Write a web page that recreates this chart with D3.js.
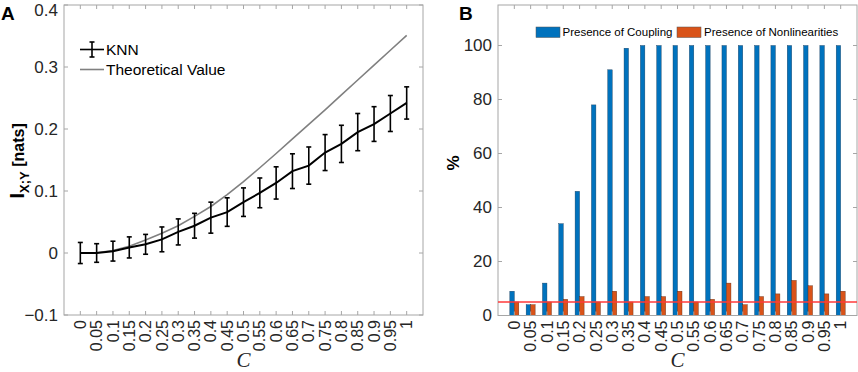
<!DOCTYPE html>
<html>
<head>
<meta charset="utf-8">
<script src="https://cdn.jsdelivr.net/npm/d3@7"></script>
<style>
  body { margin: 0; background: #fff; }
  text { font-family: 'Liberation Sans', Arial, sans-serif; fill: #262626; }
</style>
</head>
<body>
<svg id="chart" width="858" height="372"></svg>
<script>
// coupling strength C
var cValues = [0, 0.05, 0.1, 0.15, 0.2, 0.25, 0.3, 0.35, 0.4, 0.45, 0.5,
               0.55, 0.6, 0.65, 0.7, 0.75, 0.8, 0.85, 0.9, 0.95, 1]
var cLabels = ['0', '0.05', '0.1', '0.15', '0.2', '0.25', '0.3', '0.35', '0.4', '0.45', '0.5',
               '0.55', '0.6', '0.65', '0.7', '0.75', '0.8', '0.85', '0.9', '0.95', '1']

// panel A: KNN estimate (mean, half error bar) and theoretical MI
var knnMean = [0, 0, 0.003, 0.009, 0.014, 0.022, 0.034, 0.044, 0.057, 0.066, 0.082,
               0.097, 0.113, 0.132, 0.141, 0.162, 0.176, 0.195, 0.208, 0.225, 0.242]
var knnErr = [0.017, 0.015, 0.016, 0.017, 0.016, 0.02, 0.021, 0.02, 0.025, 0.023, 0.023,
              0.024, 0.026, 0.028, 0.03, 0.029, 0.03, 0.03, 0.028, 0.029, 0.026]
var theoretical = [0, 0.0005, 0.004, 0.011, 0.021, 0.032, 0.044, 0.059, 0.075, 0.094, 0.115,
                   0.1375, 0.1605, 0.184, 0.2075, 0.231, 0.255, 0.279, 0.303, 0.327, 0.351]
var yTicksA = [-0.1, 0, 0.1, 0.2, 0.3, 0.4]

// panel B: percentage of detections
var coupling = [9, 4, 12, 34, 46, 78, 91, 99, 100, 100, 100,
                100, 100, 100, 100, 100, 100, 100, 100, 100, 100]
var nonlin = [5, 4, 5, 6, 7, 5, 9, 5, 7, 7, 9,
              5, 6, 12, 4, 7, 8, 13, 11, 8, 9]
var alphaLevel = 5
var yTicksB = [0, 20, 40, 60, 80, 100]

var svg = d3.select('#chart')
var axisGray = '#a6a6a6'
var blue = '#0072BD', orange = '#D95319'

function drawFrame(x, y, xTicks, yTicks, yFmt) {
  var g = svg.append('g')
  var x0 = x.range()[0], x1 = x.range()[1]
  var y0 = y.range()[0], y1 = y.range()[1]
  g.append('rect')
    .attr('x', x0).attr('y', y1).attr('width', x1 - x0).attr('height', y0 - y1)
    .attr('fill', 'none').attr('stroke', axisGray).attr('stroke-width', 1)
  var tl = 4
  xTicks.forEach(function(t) {
    g.append('line').attr('x1', x(t)).attr('x2', x(t)).attr('y1', y0).attr('y2', y0 - tl)
      .attr('stroke', axisGray)
    g.append('line').attr('x1', x(t)).attr('x2', x(t)).attr('y1', y1).attr('y2', y1 + tl)
      .attr('stroke', axisGray)
  })
  yTicks.forEach(function(t) {
    g.append('line').attr('x1', x0).attr('x2', x0 + tl).attr('y1', y(t)).attr('y2', y(t))
      .attr('stroke', axisGray)
    g.append('line').attr('x1', x1).attr('x2', x1 - tl).attr('y1', y(t)).attr('y2', y(t))
      .attr('stroke', axisGray)
    g.append('text').text(yFmt(t))
      .attr('x', x0 - 6).attr('y', Math.max(y(t), 10)).attr('dy', '0.35em')
      .attr('text-anchor', 'end').style('font-size', '17px')
  })
  xTicks.forEach(function(t, i) {
    g.append('text').text(cLabels[i])
      .attr('transform', 'translate(' + x(t) + ',' + (y0 + 5) + ') rotate(-90)')
      .attr('dy', '0.35em').attr('text-anchor', 'end').style('font-size', '16px')
  })
  g.append('text').text('C')
    .attr('x', (x0 + x1) / 2).attr('y', 367).attr('text-anchor', 'middle')
    .style('font-family', "'Liberation Serif', 'DejaVu Serif', serif")
    .style('font-style', 'italic').style('font-size', '21px')
  return g
}

// ---------- panel A ----------
var xA = d3.scaleLinear().domain([-0.05, 1.05]).range([64, 423])
var yA = d3.scaleLinear().domain([-0.1, 0.4]).range([315, 5])

drawFrame(xA, yA, cValues, yTicksA, function(d) { return d === 0 ? '0' : d3.format('.1f')(d) })

svg.append('path')
  .datum(cValues)
  .attr('d', d3.line().x(function(d) { return xA(d) }).y(function(d, i) { return yA(theoretical[i]) }))
  .attr('fill', 'none').attr('stroke', '#808080').attr('stroke-width', 1.6)

var cap = 2.5
var errG = svg.append('g').attr('stroke', '#000').attr('stroke-width', 1.6)
cValues.forEach(function(c, i) {
  var xx = xA(c), lo = yA(knnMean[i] - knnErr[i]), hi = yA(knnMean[i] + knnErr[i])
  errG.append('line').attr('x1', xx).attr('x2', xx).attr('y1', lo).attr('y2', hi)
  errG.append('line').attr('x1', xx - cap).attr('x2', xx + cap).attr('y1', lo).attr('y2', lo)
  errG.append('line').attr('x1', xx - cap).attr('x2', xx + cap).attr('y1', hi).attr('y2', hi)
})
svg.append('path')
  .datum(cValues)
  .attr('d', d3.line().x(function(d) { return xA(d) }).y(function(d, i) { return yA(knnMean[i]) }))
  .attr('fill', 'none').attr('stroke', '#000').attr('stroke-width', 2)

// legend A
var legA = svg.append('g')
legA.append('line').attr('x1', 80).attr('x2', 104).attr('y1', 49.5).attr('y2', 49.5)
  .attr('stroke', '#000').attr('stroke-width', 1.6)
legA.append('line').attr('x1', 92).attr('x2', 92).attr('y1', 42).attr('y2', 57)
  .attr('stroke', '#000').attr('stroke-width', 1.6)
legA.append('line').attr('x1', 92 - cap).attr('x2', 92 + cap).attr('y1', 42).attr('y2', 42)
  .attr('stroke', '#000').attr('stroke-width', 1.6)
legA.append('line').attr('x1', 92 - cap).attr('x2', 92 + cap).attr('y1', 57).attr('y2', 57)
  .attr('stroke', '#000').attr('stroke-width', 1.6)
legA.append('text').text('KNN').attr('x', 106).attr('y', 49.5).attr('dy', '0.35em')
  .style('font-size', '15.5px').style('fill', '#000')
legA.append('line').attr('x1', 80).attr('x2', 104).attr('y1', 69.5).attr('y2', 69.5)
  .attr('stroke', '#808080').attr('stroke-width', 1.6)
legA.append('text').text('Theoretical Value').attr('x', 106).attr('y', 69.5).attr('dy', '0.35em')
  .style('font-size', '15.5px').style('fill', '#000')

// y label A
var ylab = svg.append('text')
  .attr('transform', 'translate(24,161) rotate(-90)')
  .attr('text-anchor', 'middle')
  .style('font-weight', 'bold').style('fill', '#000')
ylab.append('tspan').text('I').style('font-size', '21px')
ylab.append('tspan').text('X;Y').style('font-size', '13px').attr('dy', 5)
ylab.append('tspan').text(' [nats]').style('font-size', '16px').attr('dy', -5)

svg.append('text').text('A').attr('x', 1).attr('y', 20)
  .style('font-weight', 'bold').style('font-size', '19px').style('fill', '#000')

// ---------- panel B ----------
var xB = d3.scaleLinear().domain([-0.05, 1.05]).range([498, 857])
var yB = d3.scaleLinear().domain([0, 115]).range([315.5, 5])

var barW = 4.5
var barsB = svg.append('g')
barsB.selectAll('rect.cpl').data(cValues).join('rect')
  .attr('class', 'cpl')
  .attr('x', function(d) { return xB(d) - barW })
  .attr('width', barW)
  .attr('y', function(d, i) { return yB(coupling[i]) })
  .attr('height', function(d, i) { return yB(0) - yB(coupling[i]) })
  .attr('fill', blue).attr('stroke', '#1a3d5c').attr('stroke-width', 0.4)
barsB.selectAll('rect.nl').data(cValues).join('rect')
  .attr('class', 'nl')
  .attr('x', function(d) { return xB(d) })
  .attr('width', barW)
  .attr('y', function(d, i) { return yB(nonlin[i]) })
  .attr('height', function(d, i) { return yB(0) - yB(nonlin[i]) })
  .attr('fill', orange).attr('stroke', '#5c2a12').attr('stroke-width', 0.4)

drawFrame(xB, yB, cValues, yTicksB, function(d) { return String(d) })

svg.append('line')
  .attr('x1', xB.range()[0]).attr('x2', xB.range()[1])
  .attr('y1', yB(alphaLevel)).attr('y2', yB(alphaLevel))
  .attr('stroke', '#ff3a3a').attr('stroke-width', 1.6)

// legend B
var legB = svg.append('g')
legB.append('rect').attr('x', 536).attr('y', 27).attr('width', 24).attr('height', 10.5)
  .attr('fill', blue).attr('stroke', '#555').attr('stroke-width', 0.5)
legB.append('text').text('Presence of Coupling').attr('x', 562.5).attr('y', 32).attr('dy', '0.35em')
  .style('font-size', '11.5px').style('fill', '#000')
legB.append('rect').attr('x', 677).attr('y', 27).attr('width', 24).attr('height', 10.5)
  .attr('fill', orange).attr('stroke', '#555').attr('stroke-width', 0.5)
legB.append('text').text('Presence of Nonlinearities').attr('x', 704).attr('y', 32).attr('dy', '0.35em')
  .style('font-size', '11.5px').style('fill', '#000')

svg.append('text').text('%')
  .attr('transform', 'translate(459,163) rotate(-90)')
  .attr('text-anchor', 'middle')
  .style('font-weight', 'bold').style('font-size', '17px').style('fill', '#000')

svg.append('text').text('B').attr('x', 459).attr('y', 20)
  .style('font-weight', 'bold').style('font-size', '19px').style('fill', '#000')
</script>
</body>
</html>
